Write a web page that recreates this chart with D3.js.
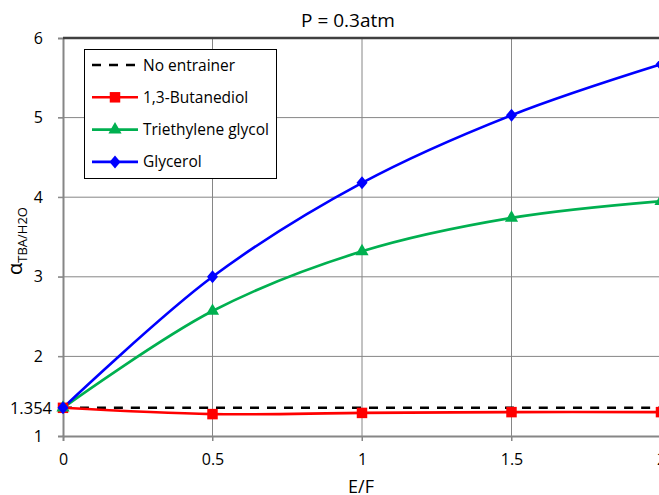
<!DOCTYPE html>
<html><head><meta charset="utf-8">
<script src="https://cdn.jsdelivr.net/npm/d3@7"></script>
<style>body{margin:0;background:#fff;overflow:hidden}svg{display:block}text{font-family:"Open Sans","Noto Sans",sans-serif}</style>
</head><body><svg id="c" width="659" height="495"></svg>
<script>
const ef = [0, 0.5, 1, 1.5, 2];
const noEntrainer = [1.354, 1.354, 1.354, 1.354, 1.354];
const butanediol = [1.354, 1.275, 1.29, 1.30, 1.30];
const teg = [1.354, 2.57, 3.32, 3.74, 3.95];
const glycerol = [1.354, 3.0, 4.18, 5.03, 5.67];
const xTicks = [0, 0.5, 1, 1.5, 2];
const yTicks = [1, 2, 3, 4, 5, 6];
const seriesNames = ["No entrainer", "1,3-Butanediol", "Triethylene glycol", "Glycerol"];

const svg = d3.select("#c");
const x = d3.scaleLinear().domain([0, 2]).range([63, 661]);
const y = d3.scaleLinear().domain([1, 6]).range([436, 38]);

// grid
svg.append("g").selectAll("line").data(xTicks.slice(1)).join("line")
  .attr("x1", d => x(d)).attr("x2", d => x(d)).attr("y1", 38).attr("y2", 441)
  .attr("stroke", "#868686").attr("stroke-width", 1);
svg.append("g").selectAll("line").data(yTicks.slice(1, -1)).join("line")
  .attr("x1", 58).attr("x2", 661).attr("y1", d => y(d)).attr("y2", d => y(d))
  .attr("stroke", "#868686").attr("stroke-width", 1);

// axes
const yAxis = svg.append("g").attr("transform", "translate(63,0)")
  .call(d3.axisLeft(y).tickValues(yTicks).tickSize(5).tickPadding(15).tickFormat(d3.format("d")));
yAxis.select(".domain").attr("stroke", "#868686").attr("stroke-width", 2);
yAxis.selectAll(".tick line").attr("stroke", "#868686");
yAxis.selectAll(".tick text").attr("font-size", 16).attr("fill", "#000").style("font-family", '"Open Sans",sans-serif');
yAxis.append("text").attr("x", -11).attr("y", y(1.354)).attr("dy", "0.36em")
  .attr("text-anchor", "end").attr("font-size", 16.5).attr("fill", "#000")
  .style("font-family", '"Open Sans",sans-serif').text("1.354");

const xAxis = svg.append("g").attr("transform", "translate(0,436)")
  .call(d3.axisBottom(x).tickValues(xTicks).tickSize(5).tickPadding(13).tickFormat(d => d));
xAxis.select(".domain").attr("stroke", "#868686").attr("stroke-width", 2);
xAxis.selectAll(".tick line").attr("stroke", "#868686");
xAxis.selectAll(".tick text").attr("font-size", 16).attr("fill", "#000").style("font-family", '"Open Sans",sans-serif');

// top border
svg.append("line").attr("x1", 63).attr("x2", 661).attr("y1", 38).attr("y2", 38)
  .attr("stroke", "#404040").attr("stroke-width", 2.5);

// title and labels
svg.append("text").attr("x", 348).attr("y", 27).attr("text-anchor", "middle")
  .attr("font-size", 19).text("P = 0.3atm");
svg.append("text").attr("x", 361).attr("y", 493).attr("text-anchor", "middle")
  .attr("font-size", 18).text("E/F");
const yl = svg.append("text").attr("transform", "translate(22,241) rotate(-90)")
  .attr("text-anchor", "middle").attr("font-size", 20);
yl.append("tspan").text("α");
yl.append("tspan").attr("font-size", 13).attr("dy", 5).text("TBA/H2O");

// series
const line = d3.line().x((d, i) => x(ef[i])).y(d => y(d)).curve(d3.curveCatmullRom.alpha(0.5));
const diamond = { draw(ctx) { ctx.moveTo(0, -6.5); ctx.lineTo(5.5, 0); ctx.lineTo(0, 6.5); ctx.lineTo(-5.5, 0); ctx.closePath(); } };
const series = [
  {name: seriesNames[0], vals: noEntrainer, color: "#000000", dash: "9,8", marker: null},
  {name: seriesNames[1], vals: butanediol, color: "#ff0000", dash: null, marker: "square"},
  {name: seriesNames[2], vals: teg, color: "#00b050", dash: null, marker: "triangle"},
  {name: seriesNames[3], vals: glycerol, color: "#0000ff", dash: null, marker: "diamond"}
];
const sym = {square: d3.symbolSquare, triangle: d3.symbolTriangle, diamond: diamond};
const symSize = {square: 110, triangle: 75, diamond: 64};
series.forEach(s => {
  svg.append("path").attr("d", line(s.vals)).attr("fill", "none")
    .attr("stroke", s.color).attr("stroke-width", 2.6)
    .attr("stroke-dasharray", s.dash);
});
series.forEach(s => {
  if (!s.marker) return;
  svg.append("g").selectAll("path").data(s.vals).join("path")
    .attr("transform", (d, i) => `translate(${x(ef[i])},${y(d)})`)
    .attr("d", d3.symbol().type(sym[s.marker]).size(symSize[s.marker]))
    .attr("fill", s.color);
});

// legend
const lg = svg.append("g");
lg.append("rect").attr("x", 84.5).attr("y", 49.5).attr("width", 192).attr("height", 129)
  .attr("fill", "#fff").attr("stroke", "#000").attr("stroke-width", 1);
series.forEach((s, i) => {
  const ly = 65 + i * 32.3;
  lg.append("line").attr("x1", 92).attr("x2", 138).attr("y1", ly).attr("y2", ly)
    .attr("stroke", s.color).attr("stroke-width", 2.6).attr("stroke-dasharray", s.dash);
  if (s.marker) lg.append("path").attr("transform", `translate(115,${ly})`)
    .attr("d", d3.symbol().type(sym[s.marker]).size(symSize[s.marker])).attr("fill", s.color);
  lg.append("text").attr("x", 143).attr("y", ly).attr("dy", "0.36em")
    .attr("font-size", 15.5).text(s.name);
});
</script></body></html>
